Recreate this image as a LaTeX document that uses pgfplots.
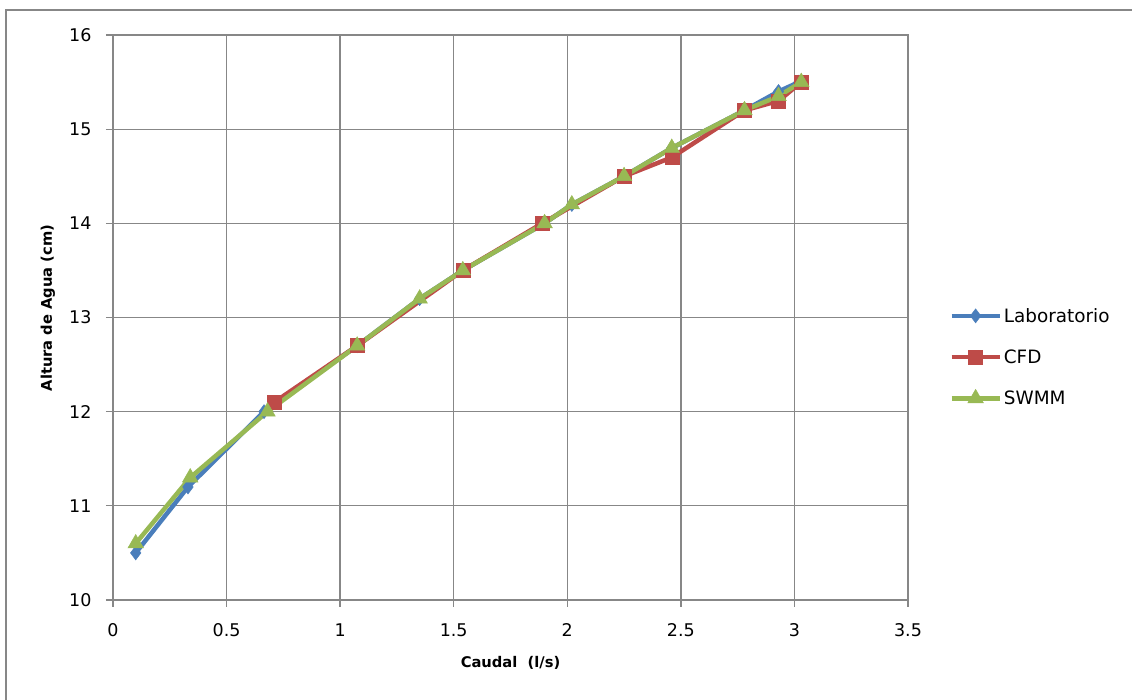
\documentclass[border=0pt]{standalone}
\usepackage{fontspec}
\setmainfont{DejaVu Sans}
\usepackage{pgfplots}
\pgfplotsset{compat=1.18}
\definecolor{lab}{HTML}{4A7EBB}
\definecolor{cfd}{HTML}{BE4B48}
\definecolor{swmm}{HTML}{98B954}
\definecolor{gridc}{HTML}{878787}
\begin{document}
\begin{tikzpicture}[x=1pt,y=1pt]
\path[use as bounding box] (0,0) rectangle (1132,700);
\draw[gridc, line width=1.2pt] (6,-5) -- (6,690) -- (1140,690);
\begin{axis}[
  at={(113pt,100pt)}, anchor=south west,
  scale only axis, width=795pt, height=565pt,
  xmin=0, xmax=3.5, ymin=10, ymax=16,
  xtick={0,0.5,1,1.5,2,2.5,3,3.5},
  xticklabels={0,0.5,1,1.5,2,2.5,3,3.5},
  ytick={10,11,12,13,14,15,16},
  grid=major,
  grid style={gridc, line width=1.3pt},
  axis line style={gridc, line width=1.3pt},
  tick pos=left, tick align=outside, major tick length=7pt,
  tick style={gridc, line width=1.3pt},
  /pgf/number format/assume math mode=true,
  ticklabel style={font=\fontsize{17.5}{17.5}\selectfont, text=black},
  xticklabel style={yshift=-13pt},
  yticklabel style={xshift=-11pt},
  xlabel={\textbf{Caudal\ \ (l/s)}},
  ylabel={\textbf{Altura de Agua (cm)}},
  label style={font=\fontsize{14.7}{14.7}\selectfont},
  xlabel style={at={(axis description cs:0.5,-0.1115)}, anchor=center},
  ylabel style={at={(axis description cs:-0.082,0.517)}, anchor=center},
  legend style={at={(axis description cs:1.048,0.43)}, anchor=west, draw=none, fill=none,
    font=\fontsize{18.4}{18.4}\selectfont, row sep=22pt},
  legend cell align=left,
  legend image code/.code={\draw[mark repeat=2,mark phase=2,#1] plot coordinates {(0pt,0pt) (24pt,0pt) (48pt,0pt)};},
]
\addplot[lab, line width=4.5pt, mark=diamond*, mark size=7pt, mark options={solid, line width=0.5pt}]
 coordinates {(0.10,10.5) (0.33,11.2) (0.665,12.0) (1.075,12.7) (1.35,13.2) (1.54,13.5) (1.90,14.0) (2.02,14.2) (2.25,14.5) (2.46,14.8) (2.78,15.2) (2.93,15.4) (3.02,15.5)};
\addlegendentry{Laboratorio}
\addplot[cfd, line width=4.5pt, mark=square*, mark size=7pt, mark options={solid, line width=0.5pt}]
 coordinates {(0.71,12.1) (1.075,12.7) (1.54,13.5) (1.89,14.0) (2.25,14.5) (2.46,14.7) (2.78,15.2) (2.93,15.3) (3.03,15.5)};
\addlegendentry{CFD}
\addplot[swmm, line width=4.5pt, mark=triangle*, mark size=9pt, mark options={solid, line width=0.5pt}]
 coordinates {(0.10,10.6) (0.34,11.3) (0.68,12.0) (1.075,12.7) (1.35,13.2) (1.54,13.5) (1.90,14.0) (2.02,14.2) (2.25,14.5) (2.46,14.8) (2.78,15.2) (2.93,15.35) (3.03,15.5)};
\addlegendentry{SWMM}
\end{axis}
\end{tikzpicture}
\end{document}
